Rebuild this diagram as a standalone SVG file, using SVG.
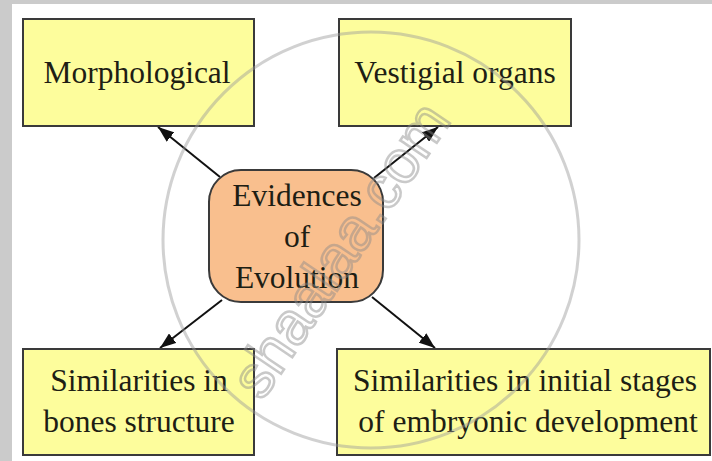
<svg xmlns="http://www.w3.org/2000/svg" width="712" height="461" viewBox="0 0 712 461">
<style>
.box{fill:#fdfd9c;stroke:#3a3a3a;stroke-width:2}
.ctr{fill:#f9bf8e;stroke:#3a3a3a;stroke-width:2}
.t{font-size:31.5px;fill:#1e1e14;text-anchor:middle}
.con{stroke:#111;stroke-width:2;fill:none;marker-end:url(#ah)}
</style>
<defs>
<marker id="ah" viewBox="0 0 16 12" refX="16" refY="6" markerWidth="16" markerHeight="12" markerUnits="userSpaceOnUse" orient="auto">
<path d="M0,0 L16,6 L0,12 z" fill="#111"/>
</marker>
</defs>
<rect width="712" height="461" fill="#ffffff"/>
<rect x="0" y="0" width="712" height="4" fill="#cbcbcb"/>
<rect x="0" y="0" width="12" height="461" fill="#cbcbcb"/>
<g id="connectors">
<line class="con" x1="220" y1="177" x2="158" y2="127"/>
<line class="con" x1="374" y1="178" x2="438" y2="127"/>
<line class="con" x1="222" y1="300" x2="160" y2="348"/>
<line class="con" x1="372" y1="297" x2="435" y2="348"/>
</g>
<g font-family="Liberation Serif, serif">
<g id="morphological">
<rect class="box" x="23" y="19" width="231" height="107"/>
<text class="t" x="137" y="83">Morphological</text>
</g>
<g id="vestigial">
<rect class="box" x="339" y="19" width="232" height="107"/>
<text class="t" x="455" y="83">Vestigial organs</text>
</g>
<g id="evidences">
<rect class="ctr" x="209" y="170" width="174" height="132" rx="32" ry="32"/>
<text class="t" x="297" y="206">Evidences</text>
<text class="t" x="297" y="247">of</text>
<text class="t" x="297" y="288">Evolution</text>
</g>
<g id="bones">
<rect class="box" x="23" y="349" width="231" height="106"/>
<text class="t" x="139" y="391">Similarities in</text>
<text class="t" x="139" y="432">bones structure</text>
</g>
<g id="embryonic">
<rect class="box" x="337" y="349" width="373" height="106"/>
<text class="t" x="525" y="391">Similarities in initial stages</text>
<text class="t" x="528" y="432">of embryonic development</text>
</g>
</g>
<g id="watermark" opacity="0.45">
<circle cx="371" cy="240" r="208" fill="none" stroke="#9a9a9a" stroke-width="3"/>
<text x="0" y="0" transform="translate(262 402) rotate(-56)" font-family="Liberation Sans, sans-serif" font-size="60" fill="none" stroke="#8a8a8a" stroke-width="2.5">shaalaa.com</text>
</g>
</svg>
